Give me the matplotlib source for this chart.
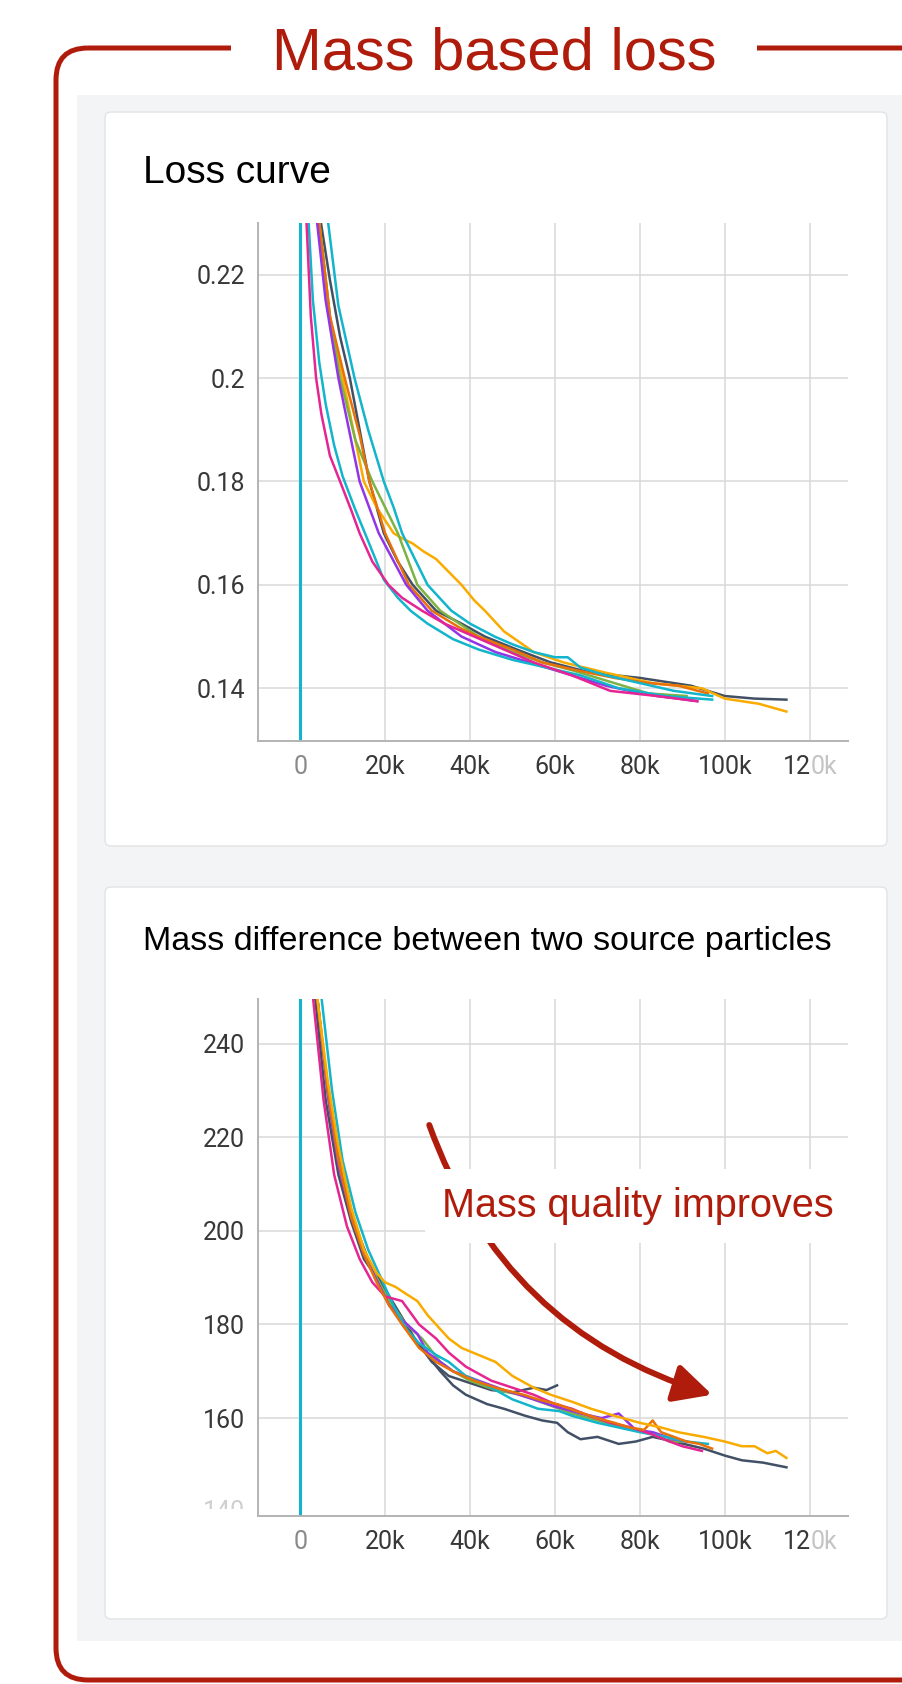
import numpy as np
import matplotlib.pyplot as plt
from matplotlib.patches import FancyBboxPatch, Rectangle

W, H = 902, 1684
RED = '#b01c0c'
SLATE = '#425066'
CYAN = '#12b5cb'
PINK = '#e52592'
AMBER = '#f9ab00'
PURPLE = '#9334e6'
GREEN = '#7cb342'
ORANGE = '#e8710a'

# ---- loss curve (steps in thousands) ----
loss_pink_k = [0.8, 1.5, 2.5, 3.75, 5, 7, 9.4, 12, 14, 17, 20.8, 24, 28.7, 34, 41, 48, 55, 64, 73, 84, 93.5]
loss_pink = [0.30, 0.230, 0.212, 0.200, 0.193, 0.185, 0.180, 0.1745, 0.170, 0.1645, 0.160, 0.1575,
             0.155, 0.1525, 0.150, 0.1475, 0.145, 0.1425, 0.1395, 0.1385, 0.1375]
loss_cyan_a_k = [1, 2, 3, 4.5, 6, 8, 10, 13, 16, 19.7, 23, 26, 30, 36, 42, 50, 58, 66, 75, 86, 97]
loss_cyan_a = [0.30, 0.230, 0.215, 0.203, 0.195, 0.187, 0.181, 0.1745, 0.1685, 0.161, 0.1575, 0.155,
               0.1525, 0.1495, 0.1475, 0.1455, 0.144, 0.1425, 0.140, 0.1385, 0.1378]
loss_slate_k = [2.5, 4.9, 7, 9.4, 11.7, 14, 16.3, 19.7, 23, 26.5, 32, 38, 43.5, 51, 59, 68.5, 80, 92, 100, 107, 114.5]
loss_slate = [0.30, 0.230, 0.219, 0.208, 0.200, 0.190, 0.180, 0.170, 0.1645, 0.160, 0.155, 0.1525,
              0.150, 0.1475, 0.145, 0.143, 0.142, 0.1405, 0.1385, 0.138, 0.1378]
loss_amber_k = [2, 4.5, 7, 10, 12.5, 15, 18, 22, 24, 26.5, 29, 32, 35, 38, 41, 43.5, 48, 55, 62, 72,
                83, 94.6, 100, 108, 114.5]
loss_amber = [0.30, 0.230, 0.212, 0.200, 0.190, 0.180, 0.175, 0.170, 0.169, 0.168, 0.1665, 0.165,
              0.1625, 0.160, 0.157, 0.155, 0.151, 0.147, 0.145, 0.143, 0.141, 0.140, 0.138, 0.137, 0.1355]
loss_green_k = [2, 4.5, 7, 9.4, 13, 17, 20, 23, 27.6, 33, 42, 50, 57, 64, 70, 76, 82, 91]
loss_green = [0.30, 0.230, 0.212, 0.200, 0.188, 0.180, 0.175, 0.170, 0.160, 0.155, 0.150, 0.147,
              0.145, 0.1435, 0.142, 0.1405, 0.139, 0.1385]
loss_orange_k = [2, 4.5, 7, 10.5, 14, 16.3, 20, 25.6, 31, 38, 42, 50, 57, 65, 74, 82, 89, 96]
loss_orange = [0.30, 0.230, 0.212, 0.200, 0.189, 0.180, 0.170, 0.160, 0.155, 0.1515, 0.150, 0.1475,
               0.145, 0.1435, 0.142, 0.141, 0.1405, 0.139]
loss_purple_k = [1.8, 4, 6, 9, 11.5, 14, 18.5, 25, 30, 38, 46, 54, 60, 66, 72, 77.6, 84, 89, 93.5]
loss_purple = [0.30, 0.230, 0.215, 0.200, 0.190, 0.180, 0.170, 0.160, 0.155, 0.150, 0.147, 0.145,
               0.1435, 0.142, 0.1405, 0.1395, 0.1385, 0.138, 0.1375]
loss_cyan_b_k = [3, 6.6, 9, 12.8, 16, 19.7, 22, 24, 27, 30, 35.6, 40, 45.8, 50, 55, 60, 63, 66, 72, 80, 88, 97]
loss_cyan_b = [0.30, 0.230, 0.214, 0.200, 0.190, 0.180, 0.175, 0.170, 0.165, 0.160, 0.155, 0.1525,
               0.150, 0.1485, 0.147, 0.146, 0.146, 0.144, 0.1425, 0.141, 0.1395, 0.1385]

# ---- mass difference (steps in thousands) ----
mass_slate_k = [1, 3.5, 6, 9, 12, 15, 18, 21, 25, 29, 33, 36, 39, 44, 48, 53, 57, 60.5, 63, 66, 70,
                75, 79, 83, 88, 95, 100, 104, 109, 114.5]
mass_slate = [330, 250, 228, 212, 202, 194, 190, 185, 179, 174.5, 170, 167, 165, 163, 162, 160.5,
              159.5, 159, 157, 155.5, 156, 154.5, 155, 156, 155, 153.5, 152, 151, 150.5, 149.5]
mass_slate2_k = [1, 4, 7, 10, 13, 16, 19, 23, 27, 31, 35, 40, 45, 50, 55, 58, 60.5]
mass_slate2 = [330, 250, 226, 211, 201, 194, 189, 183, 177, 172, 169, 167.5, 166, 165.5, 166.5, 166, 167]
mass_amber_k = [1, 4, 6.5, 9, 12, 15, 18, 20, 22.5, 25, 27.6, 30, 32, 35, 38, 42, 46, 50, 55, 59,
                64, 68.5, 74, 80, 85, 89, 95, 100, 104, 107, 110, 112, 114.5]
mass_amber = [330, 250, 232, 218, 205, 196, 191, 189, 188, 186.5, 185, 182, 180, 177, 175, 173.5,
              172, 169, 166.5, 165, 163.5, 162, 160.5, 159, 158, 157, 156, 155, 154, 154, 152.5, 153, 151.5]
mass_orange_k = [1, 4, 6.5, 9, 12, 15, 18, 21, 24, 28, 32, 36, 41, 46, 52.6, 56, 60.5, 65, 70, 74,
                 77.6, 81, 83, 85, 88, 91, 94, 97]
mass_orange = [330, 250, 230, 215, 203, 195, 189, 184, 180, 175, 172, 170, 168, 166.5, 165, 164,
               163, 161.5, 160, 159, 158, 157.5, 159.5, 157, 156, 155, 154.5, 153.5]
mass_pink_k = [1, 3, 5.5, 8, 11, 14, 17, 20, 24, 28, 32, 35, 39, 45, 50, 55, 60, 64, 68, 73, 78,
               83, 87, 90, 94.6]
mass_pink = [330, 250, 228, 212, 201, 194, 189, 186, 185, 180, 177, 174, 171, 168, 166.5, 165, 163,
             162, 160.5, 159, 158, 156.5, 155, 154, 153]
mass_cyan_k = [1, 5, 7.5, 10, 13, 16, 19, 22, 25, 28, 32, 35, 39, 44, 50, 56, 61, 64, 70, 75, 80,
               86, 91, 96]
mass_cyan = [330, 250, 230, 215, 204, 196, 190, 184, 179, 176, 173.5, 172, 169, 167, 164, 162,
             161.5, 160.5, 159, 158, 157, 156, 155, 154.5]
mass_purple_k = [1, 4, 6.5, 9, 12, 15, 18, 21, 24, 27.6, 30, 36, 42, 48, 55, 60, 66, 71, 75, 79,
                 83, 88, 91]
mass_purple = [330, 250, 229, 214, 203, 195, 189.5, 184, 181, 178, 174, 170, 168, 166, 164, 162.5,
               161, 160, 161, 157.5, 157, 155.5, 155]
mass_green_k = [1, 4, 6.5, 9, 12, 15, 18, 21, 25, 28.7, 33, 36, 40, 46, 52, 58, 64, 70, 76, 82, 87, 90]
mass_green = [330, 250, 230, 215, 204, 196, 190, 185, 180, 177, 172, 170, 168, 166, 165, 163, 161,
              159.5, 158, 157, 155, 155]

# run that only has a spike at step 0
spike_k = [0, 0]
loss_spike = [0.9, 0.10]
mass_spike = [900, 100]

x_ticks = [0, 20000, 40000, 60000, 80000, 100000, 120000]
x_labels = ['0', '20k', '40k', '60k', '80k', '100k', '']
loss_ticks = [0.14, 0.16, 0.18, 0.2, 0.22]
loss_labels = ['0.14', '0.16', '0.18', '0.2', '0.22']
mass_ticks = [160, 180, 200, 220, 240]
mass_labels = ['160', '180', '200', '220', '240']

loss_runs = [(loss_slate_k, loss_slate, SLATE), (loss_amber_k, loss_amber, AMBER),
             (loss_green_k, loss_green, GREEN), (loss_orange_k, loss_orange, ORANGE),
             (loss_purple_k, loss_purple, PURPLE), (loss_cyan_b_k, loss_cyan_b, CYAN),
             (loss_cyan_a_k, loss_cyan_a, CYAN), (loss_pink_k, loss_pink, PINK)]
mass_runs = [(mass_slate_k, mass_slate, SLATE), (mass_slate2_k, mass_slate2, SLATE),
             (mass_green_k, mass_green, GREEN), (mass_purple_k, mass_purple, PURPLE),
             (mass_cyan_k, mass_cyan, CYAN), (mass_pink_k, mass_pink, PINK),
             (mass_orange_k, mass_orange, ORANGE), (mass_amber_k, mass_amber, AMBER)]

TICK_FONT = 'Roboto'
TEXT_FONT = 'Liberation Sans'
TICK_SIZE = 18


def px_axes(fig, x0, y0, x1, y1):
    return fig.add_axes([x0 / W, 1 - y1 / H, (x1 - x0) / W, (y1 - y0) / H])


def style(ax, runs, spike, ylim, yticks, ylabels):
    for k, v, c in runs:
        ax.plot(np.array(k) * 1000, v, color=c, lw=1.8, solid_joinstyle='round')
    ax.plot(np.array(spike_k) * 1000, spike, color=CYAN, lw=2.2)
    ax.set_xlim(-10000, 129000)
    ax.set_ylim(*ylim)
    ax.set_xticks(x_ticks, x_labels)
    ax.set_yticks(yticks, ylabels)
    ax.set_facecolor('none')
    ax.grid(True, color='#d9d9d9', lw=1.1)
    ax.set_axisbelow(True)
    for s in ['top', 'right']:
        ax.spines[s].set_visible(False)
    for s in ['left', 'bottom']:
        ax.spines[s].set_color('#b3b3b3')
        ax.spines[s].set_linewidth(1.4)
    ax.tick_params(length=0, labelsize=TICK_SIZE, labelcolor='#383838')
    ax.tick_params(axis='x', pad=10)
    ax.tick_params(axis='y', pad=9)
    for lab in ax.get_xticklabels() + ax.get_yticklabels():
        lab.set_family(TICK_FONT)
    ax.xaxis.get_major_ticks()[0].label1.set_color('#8a8a8a')
    # "120k" fades out at the card edge
    ax.annotate('12', xy=(120000, 0), xycoords=('data', 'axes fraction'), xytext=(0.5, -10),
                textcoords='offset points', ha='right', va='top', fontsize=TICK_SIZE,
                family=TICK_FONT, color='#383838', annotation_clip=False)
    ax.annotate('0k', xy=(120000, 0), xycoords=('data', 'axes fraction'), xytext=(0.5, -10),
                textcoords='offset points', ha='left', va='top', fontsize=TICK_SIZE,
                family=TICK_FONT, color='#c4c4c4', annotation_clip=False)


def main():
    fig = plt.figure(figsize=(W / 100, H / 100), dpi=100)
    bg = fig.add_axes([0, 0, 1, 1])
    bg.set_xlim(0, W)
    bg.set_ylim(H, 0)
    bg.axis('off')

    bg.add_patch(Rectangle((77, 94.5), W, 1641 - 94.5, fc='#f3f4f6', ec='none'))
    for y0, y1 in [(112, 846), (887, 1619)]:
        bg.add_patch(FancyBboxPatch((111, y0 + 6), 887 - 105 - 12, y1 - y0 - 12,
                                    boxstyle='round,pad=6', fc='white', ec='#e3e3e3', lw=1))
    bg.add_patch(FancyBboxPatch((56 + 32, 48 + 32), 960 - 56 - 64, 1680 - 48 - 64,
                                boxstyle='round,pad=32', fill=False, ec=RED, lw=3.6))
    bg.add_patch(Rectangle((231, 36), 757 - 231, 24, fc='white', ec='none', zorder=3))
    bg.text(494, 70, 'Mass based loss', ha='center', va='baseline', fontsize=43,
            family=TEXT_FONT, color=RED, zorder=4)
    bg.text(143, 183, 'Loss curve', fontsize=28, family=TEXT_FONT, color='black')
    bg.text(143, 950, 'Mass difference between two source particles', fontsize=24.5,
            family=TEXT_FONT, color='black')

    ax1 = px_axes(fig, 257.7, 223, 848, 741)
    style(ax1, loss_runs, loss_spike, (0.1298, 0.230), loss_ticks, loss_labels)

    ax2 = px_axes(fig, 257.7, 998.6, 848, 1516)
    style(ax2, mass_runs, mass_spike, (139.1, 249.6), mass_ticks, mass_labels)
    # faded, half-hidden "140" label at the bottom of the second chart
    t = ax2.annotate('140', xy=(0, 140), xycoords=('axes fraction', 'data'), xytext=(-9, 0),
                     textcoords='offset points', ha='right', va='center', fontsize=TICK_SIZE,
                     family=TICK_FONT, color='#cfcfcf', annotation_clip=False)
    t.set_clip_on(True)
    t.set_clip_path(Rectangle((0, 0), W, 1509, transform=bg.transData))

    ax2.annotate('', xy=(97000, 165), xytext=(30400, 222.6),
                 arrowprops=dict(arrowstyle='-|>,head_length=1.15,head_width=0.58',
                                 mutation_scale=20, color=RED, lw=4.3,
                                 connectionstyle='arc3,rad=0.25', shrinkA=0, shrinkB=0),
                 zorder=5)
    ax2.text(33500, 205.3, 'Mass quality improves', fontsize=28.5, family=TEXT_FONT,
             color=RED, va='center', zorder=6,
             bbox=dict(boxstyle='square,pad=0.45', fc='white', ec='none'))

    plt.savefig('out.png', dpi=100)


if __name__ == '__main__':
    main()
